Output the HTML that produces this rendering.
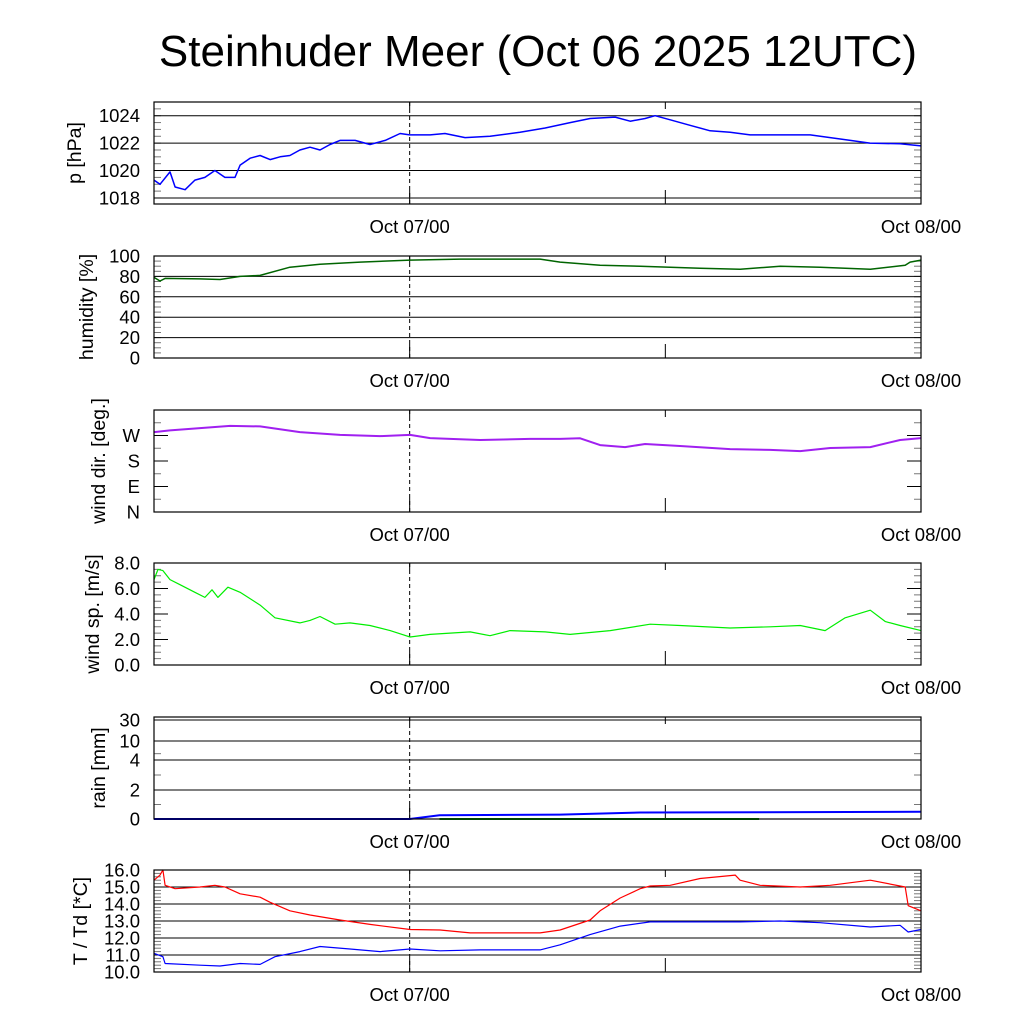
<!DOCTYPE html>
<html><head><meta charset="utf-8"><style>
html,body{margin:0;padding:0;background:#fff;}
svg{display:block;font-family:"Liberation Sans",sans-serif;}
</style></head><body>
<svg id="chart" width="1024" height="1024" viewBox="0 0 1024 1024">
<rect width="1024" height="1024" fill="#fff"/>
<text x="538" y="66" font-size="44" text-anchor="middle">Steinhuder Meer (Oct 06 2025 12UTC)</text>
</svg>
<script>
// time axis (hours since Oct 06 12UTC)
const timeStart = 0, timeEnd = 36;
const timeTicks = [12, 24];
const timeLabelHours = [12, 36];
const timeLabels = ["Oct 07/00", "Oct 08/00"];

// pressure
const pTimes = [0,0.28,0.75,0.99,1.46,1.92,2.39,2.86,3.33,3.8,4.04,4.51,4.98,5.45,5.92,6.38,6.85,7.32,7.79,8.26,8.73,9.44,10.14,10.85,11.55,12.0,12.96,13.66,14.6,15.77,17.18,18.36,19.53,20.47,21.64,22.35,23.05,23.52,24.23,25.16,26.1,27.04,27.98,28.92,29.86,30.8,31.74,32.68,33.6,35.02,36];
const pValues = [1019.3,1019.0,1019.9,1018.8,1018.6,1019.3,1019.5,1020.0,1019.5,1019.5,1020.4,1020.9,1021.1,1020.8,1021.0,1021.1,1021.5,1021.7,1021.5,1021.9,1022.2,1022.2,1021.9,1022.2,1022.7,1022.6,1022.6,1022.7,1022.4,1022.5,1022.8,1023.1,1023.5,1023.8,1023.9,1023.6,1023.8,1024.0,1023.7,1023.3,1022.9,1022.8,1022.6,1022.6,1022.6,1022.6,1022.4,1022.2,1022.0,1021.95,1021.8];
const pTicks = [1018,1020,1022,1024];

// humidity
const hTimes = [0,0.28,0.52,2.16,3.1,4.04,4.98,6.38,7.79,9.67,12.02,14.37,18.12,19.06,20.94,22.82,25.63,27.51,29.39,31.27,33.62,35.26,35.49,36];
const hValues = [79,75.5,78,77.5,77,80,81,89,92,94,96,97,97,94,91,90,88,87,90,89,87,91,94,96];
const hTicks = [0,20,40,60,80,100];

// wind direction (deg)
const dTimes = [0,0.75,3.57,4.98,6.85,8.73,10.61,12.02,12.96,15.31,17.65,19.06,20.0,20.94,22.11,23.05,24.69,27.04,28.92,30.33,31.74,33.62,35.02,36];
const dValues = [282,288,304,302,282,272,268,272,261,254,258,258,260,236,229,240,233,222,219,215,226,229,254,261];
const dTicks = [0,90,180,270];
const dTickLabels = ["N","E","S","W"];

// wind speed
const sTimes = [0,0.19,0.42,0.75,1.22,1.92,2.39,2.72,3.0,3.47,4.04,4.98,5.68,6.85,7.32,7.79,8.5,9.2,10.14,11.08,12.02,12.96,14.84,15.77,16.71,18.36,19.53,21.41,23.29,24.69,27.04,28.92,30.33,31.5,32.44,33.62,34.33,35.02,36];
const sValues = [6.7,7.5,7.4,6.7,6.3,5.7,5.3,5.9,5.3,6.1,5.7,4.7,3.7,3.3,3.5,3.8,3.2,3.3,3.1,2.7,2.2,2.4,2.6,2.3,2.7,2.6,2.4,2.7,3.2,3.1,2.9,3.0,3.1,2.7,3.7,4.3,3.4,3.1,2.7];
const sTicks = [0,2,4,6,8];

// rain (cumulative, mm)
const rTimes = [0,12.0,13.4,19.06,22.82,36];
const rValues = [0,0,0.26,0.3,0.45,0.5];
const rgTimes = [13.4,28.4];
const rgValues = [0,0];
const rTicks = [0,2,4,10,30];

// temperature / dew point
const tTimes = [0,0.28,0.42,0.52,0.99,2.16,2.86,3.33,4.04,4.98,5.45,6.38,7.32,8.73,10.14,12.02,13.43,14.84,16.71,18.12,19.06,20.47,20.94,21.88,22.82,23.29,24.23,25.63,27.28,27.51,28.45,30.33,31.74,33.62,35.26,35.4,36];
const tValues = [15.4,15.7,16.0,15.1,14.9,15.0,15.1,15.0,14.6,14.4,14.1,13.6,13.35,13.06,12.8,12.5,12.47,12.3,12.3,12.3,12.47,13.06,13.6,14.35,14.9,15.06,15.1,15.5,15.7,15.4,15.1,15.0,15.1,15.4,15.0,13.9,13.6];
const tdTimes = [0,0.42,0.52,2.16,3.1,4.04,4.98,5.68,6.85,7.79,9.2,10.61,12.02,13.43,15.31,18.12,19.06,20.47,21.88,23.29,25.63,27.51,29.39,31.27,33.62,35.02,35.4,36];
const tdValues = [11.1,10.9,10.5,10.4,10.35,10.5,10.45,10.9,11.2,11.5,11.35,11.2,11.35,11.25,11.3,11.3,11.6,12.2,12.7,12.95,12.95,12.95,13.0,12.9,12.65,12.75,12.35,12.5];
const tTicks = [10,11,12,13,14,15,16];

const NS = "http://www.w3.org/2000/svg";
const svg = document.getElementById("chart");
const X0 = 154, X1 = 921;
function xs(h){ return X0 + (h - timeStart) / (timeEnd - timeStart) * (X1 - X0); }
function mk(tag, attrs, parent){
  const e = document.createElementNS(NS, tag);
  for (const k in attrs) e.setAttribute(k, attrs[k]);
  (parent || svg).appendChild(e);
  return e;
}

function panel(cfg){
  const g = mk("g", {});
  
  
  const y = cfg.yscale, top = cfg.top, bot = cfg.bot;
  if (cfg.minor) {
    cfg.minor.forEach(v => {
      const yy = y(v);
      const a = mk("line", {x1: X0, x2: X0 + 7, y1: yy, y2: yy, stroke: "#777", "stroke-width": 1}, g);
      
      
      const b = mk("line", {x1: X1 - 7, x2: X1, y1: yy, y2: yy, stroke: "#777", "stroke-width": 1}, g);
      
      
    });
  }
  cfg.ticks.forEach((v, i) => {
    const yy = y(v);
    if (cfg.grid) {
      const l = mk("line", {x1: X0, x2: X1, y1: yy, y2: yy, stroke: "#000", "stroke-width": 1}, g);
      
      
    } else {
      const a = mk("line", {x1: X0, x2: X0 + 14, y1: yy, y2: yy, stroke: "#000", "stroke-width": 1}, g);
      
      
      const b = mk("line", {x1: X1 - 14, x2: X1, y1: yy, y2: yy, stroke: "#000", "stroke-width": 1}, g);
      
      
    }
    const t = mk("text", {x: 140, y: yy + 6.5, "font-size": 18.5, "text-anchor": "end"}, g);
    
    
    t.textContent = cfg.labels ? cfg.labels[i] : cfg.fmt(v);
  });
  const d = mk("line", {x1: xs(timeTicks[0]), x2: xs(timeTicks[0]), y1: top, y2: bot, stroke: "#000", "stroke-width": 1, "stroke-dasharray": "4,3"}, g);
  
  
  timeTicks.forEach(h => {
    const t = mk("line", {x1: xs(h), x2: xs(h), y1: bot - 14, y2: bot, stroke: "#000", "stroke-width": 1}, g);
    
    
    const t2 = mk("line", {x1: xs(h), x2: xs(h), y1: top, y2: top + 7, stroke: "#000", "stroke-width": 1}, g);
    
    
  });
  cfg.series.forEach(s => {
    const pts = s.t.map((h, i) => xs(h).toFixed(1) + "," + y(s.v[i]).toFixed(1)).join(" ");
    const p = mk("polyline", {points: pts, fill: "none", stroke: s.color, "stroke-width": s.w || 1.5, "stroke-linejoin": "round"}, g);
    
    
  });
  const f = mk("rect", {x: X0, y: top, width: X1 - X0, height: bot - top, fill: "none", stroke: "#000", "stroke-width": 1.2}, g);
  
  
  const yt = mk("text", {x: 0, y: 0, "font-size": 19.5, "text-anchor": "middle", transform: "translate(" + cfg.titleX + "," + ((top + bot) / 2) + ") rotate(-90)"}, g);
  
  
  yt.textContent = cfg.title;
  timeLabelHours.forEach((h, i) => {
    const t = mk("text", {x: xs(h), y: bot + 29, "font-size": 18.5, "text-anchor": "middle"}, g);
    
    
    t.textContent = timeLabels[i];
  });
}
function lin(v0, v1, top, bot){ return v => bot - (v - v0) / (v1 - v0) * (bot - top); }
function range(a, b, s){ const r = []; for (let v = a; v <= b + 1e-9; v += s) r.push(v); return r; }

panel({name: "pressure", top: 102, bot: 204, yscale: lin(1017.56, 1025, 102, 204), ticks: pTicks, grid: true,
  minor: range(1018, 1025, 0.5), fmt: v => String(v), title: "p [hPa]", titleX: 81,
  series: [{t: pTimes, v: pValues, color: "#0000ff", name: "pressure-line"}]});
panel({name: "humidity", top: 256, bot: 358, yscale: lin(0, 100, 256, 358), ticks: hTicks, grid: true,
  minor: range(0, 100, 5), fmt: v => String(v), title: "humidity [%]", titleX: 93,
  series: [{t: hTimes, v: hValues, color: "#006400", name: "humidity-line"}]});
panel({name: "wind-direction", top: 410, bot: 512, yscale: lin(0, 360, 410, 512), ticks: dTicks, labels: dTickLabels, grid: false,
  minor: range(45, 315, 90), title: "wind dir. [deg.]", titleX: 105,
  series: [{t: dTimes, v: dValues, color: "#a020f0", name: "wind-direction-line", w: 2}]});
panel({name: "wind-speed", top: 563, bot: 665, yscale: lin(0, 8, 563, 665), ticks: sTicks, grid: false,
  minor: range(0, 8, 0.5), fmt: v => v.toFixed(1), title: "wind sp. [m/s]", titleX: 99,
  series: [{t: sTimes, v: sValues, color: "#00ee00", name: "wind-speed-line", w: 1.2}]});
const rPix = [819, 790, 760, 741, 720];
function rainY(v){
  for (let i = 0; i < rTicks.length - 1; i++) {
    if (v <= rTicks[i + 1]) return rPix[i] + (v - rTicks[i]) / (rTicks[i + 1] - rTicks[i]) * (rPix[i + 1] - rPix[i]);
  }
  return rPix[rPix.length - 1];
}
panel({name: "rain", top: 717, bot: 819, yscale: rainY, ticks: rTicks, grid: true,
  minor: [1, 3, 6], fmt: v => String(v), title: "rain [mm]", titleX: 105,
  series: [{t: rgTimes, v: rgValues, color: "#00aa00", name: "rain-rate-line", w: 2},
           {t: rTimes, v: rValues, color: "#0000ff", name: "rain-sum-line", w: 2}]});
panel({name: "temperature", top: 870, bot: 972, yscale: lin(10, 16, 870, 972), ticks: tTicks, grid: true,
  minor: range(10, 16, 0.2), fmt: v => v.toFixed(1), title: "T / Td [*C]", titleX: 87,
  series: [{t: tTimes, v: tValues, color: "#ff0000", name: "temperature-line", w: 1.2},
           {t: tdTimes, v: tdValues, color: "#0000ff", name: "dewpoint-line", w: 1.2}]});
</script>
</body></html>
